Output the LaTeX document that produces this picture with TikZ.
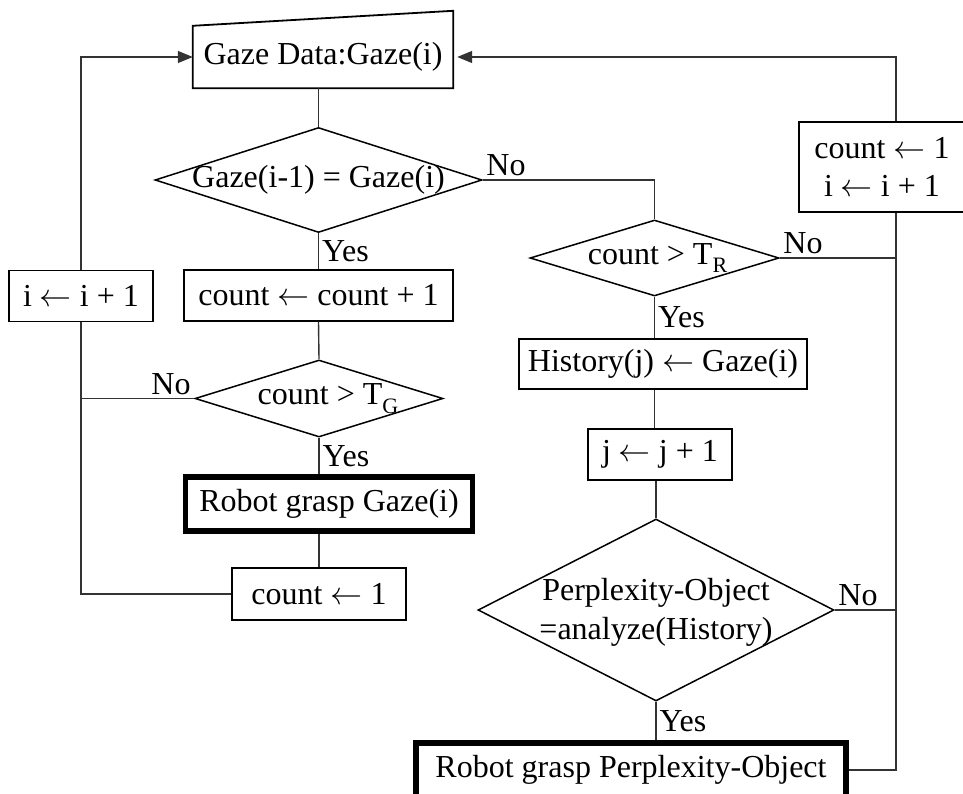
\RequirePackage{fix-cm}
\documentclass[tikz,border=0pt]{standalone}
\usepackage{fontspec}
\setmainfont{Liberation Serif}
\usetikzlibrary{arrows.meta,positioning,shapes.geometric}

\begin{document}
\begin{tikzpicture}[x=1pt, y=-1pt, >={Triangle[length=15pt,width=12pt]},
  font=\fontsize{32}{38}\selectfont]

		\tikzstyle{box}=[draw, line width=1.4pt, fill=white, inner sep=0pt,
		minimum height=51pt]
		\tikzstyle{grasp}=[draw, line width=5.5pt, fill=white, inner sep=0pt,
		minimum height=54pt]
		\tikzstyle{test}=[draw, diamond, line width=1.5pt, inner sep=0pt]
		\tikzstyle{wire}=[line width=1.4pt, draw=black!80]
		\tikzstyle{tag}=[inner sep=3pt]

		\useasboundingbox (0,0) rectangle (963,794);

		% Input
		\node[inner sep=0pt, minimum width=260pt, minimum height=62pt] (gaze) at (323,57) {Gaze Data:Gaze(i)};
		\draw[line width=1.8pt] (gaze.south west) -- (gaze.south east)
		-- ([yshift=15pt]gaze.north east) -- (gaze.north west) -- cycle;

		% Left branch
		\node[test, minimum width=327pt, minimum height=105pt,
		label={center:Gaze(i-1) = Gaze(i)}] (same) at (318.5,180) {};
		\node[box, minimum width=269pt] (cnt) at (318.5,295.5) {count $\leftarrow$ count + 1};
		\node[box, minimum width=144pt] (inc) at (81,296) {i $\leftarrow$ i + 1};
		\node[test, minimum width=248pt, minimum height=77pt,
		label={[xshift=9pt]center:count > T\raisebox{-0.6ex}{\fontsize{22}{22}\selectfont G}}] (tg) at (319,398.5) {};
		\node[grasp, minimum width=287pt] (grasp1) at (329,504) {Robot grasp Gaze(i)};
		\node[box, minimum width=174pt, minimum height=52pt] (reset) at (319,594) {count $\leftarrow$ 1};

		% Right branch
		\node[test, minimum width=249pt, minimum height=76pt,
		label={[xshift=3pt]center:count > T\raisebox{-0.6ex}{\fontsize{22}{22}\selectfont R}}] (tr) at (654.5,258) {};
		\node[box, minimum width=288pt, minimum height=50pt] (hist) at (663,364) {History(j) $\leftarrow$ Gaze(i)};
		\node[box, minimum width=144pt] (incj) at (660,454.5) {j $\leftarrow$ j + 1};
		\node[test, minimum width=356pt, minimum height=182pt,
		label={[yshift=-2pt]center:\begin{tabular}{@{}c@{}}Perplexity-Object\\[1pt]=analyze(History)\end{tabular}}] (perp) at (656,610) {};
		\node[grasp, minimum width=430pt] (grasp2) at (631,770) {Robot grasp Perplexity-Object};
		\node[box, minimum width=166pt, minimum height=90pt, align=center] (next) at (882,167) {count $\leftarrow$ 1\\ i $\leftarrow$ i + 1};
		\coordinate (rail) at ([xshift=14pt]next.south);

		% Left connectors
		\draw[wire] (gaze.south -| same.north) -- (same.north);
		\draw[wire] (same.south) -- node[tag, right]{Yes} (cnt.north);
		\draw[wire] (cnt.south) -- (tg.north);
		\draw[wire] (tg.south) -- node[tag, right]{Yes} (tg.south |- grasp1.north);
		\draw[wire] (grasp1.south -| reset.north) -- (reset.north);
		\draw[wire] (tg.west) node[tag, above left]{No} -- (tg.west -| inc.south);
		\draw[wire] (reset.west) -| (inc.south);
		\draw[wire, ->] (inc.north) |- (gaze.west);

		% Right connectors
		\draw[wire] (same.east) node[tag, above right]{No} -| (tr.north);
		\draw[wire] (tr.south) -- node[tag, right]{Yes} (tr.south |- hist.north);
		\draw[wire] (hist.south -| tr.south) -- (incj.north -| tr.south);
		\draw[wire] (incj.south -| perp.north) -- (perp.north);
		\draw[wire] (perp.south) -- node[tag, right]{Yes} (perp.south |- grasp2.north);
		\draw[wire] (tr.east) node[tag, above right]{No} -- (tr.east -| rail);
		\draw[wire] (perp.east) node[tag, above right]{No} -- (perp.east -| rail);
		\draw[wire] (grasp2.east) -| (rail);
		\draw[wire, ->, shorten >=4pt] ([xshift=14pt]next.north) |- (gaze.east);

\end{tikzpicture}
\end{document}
